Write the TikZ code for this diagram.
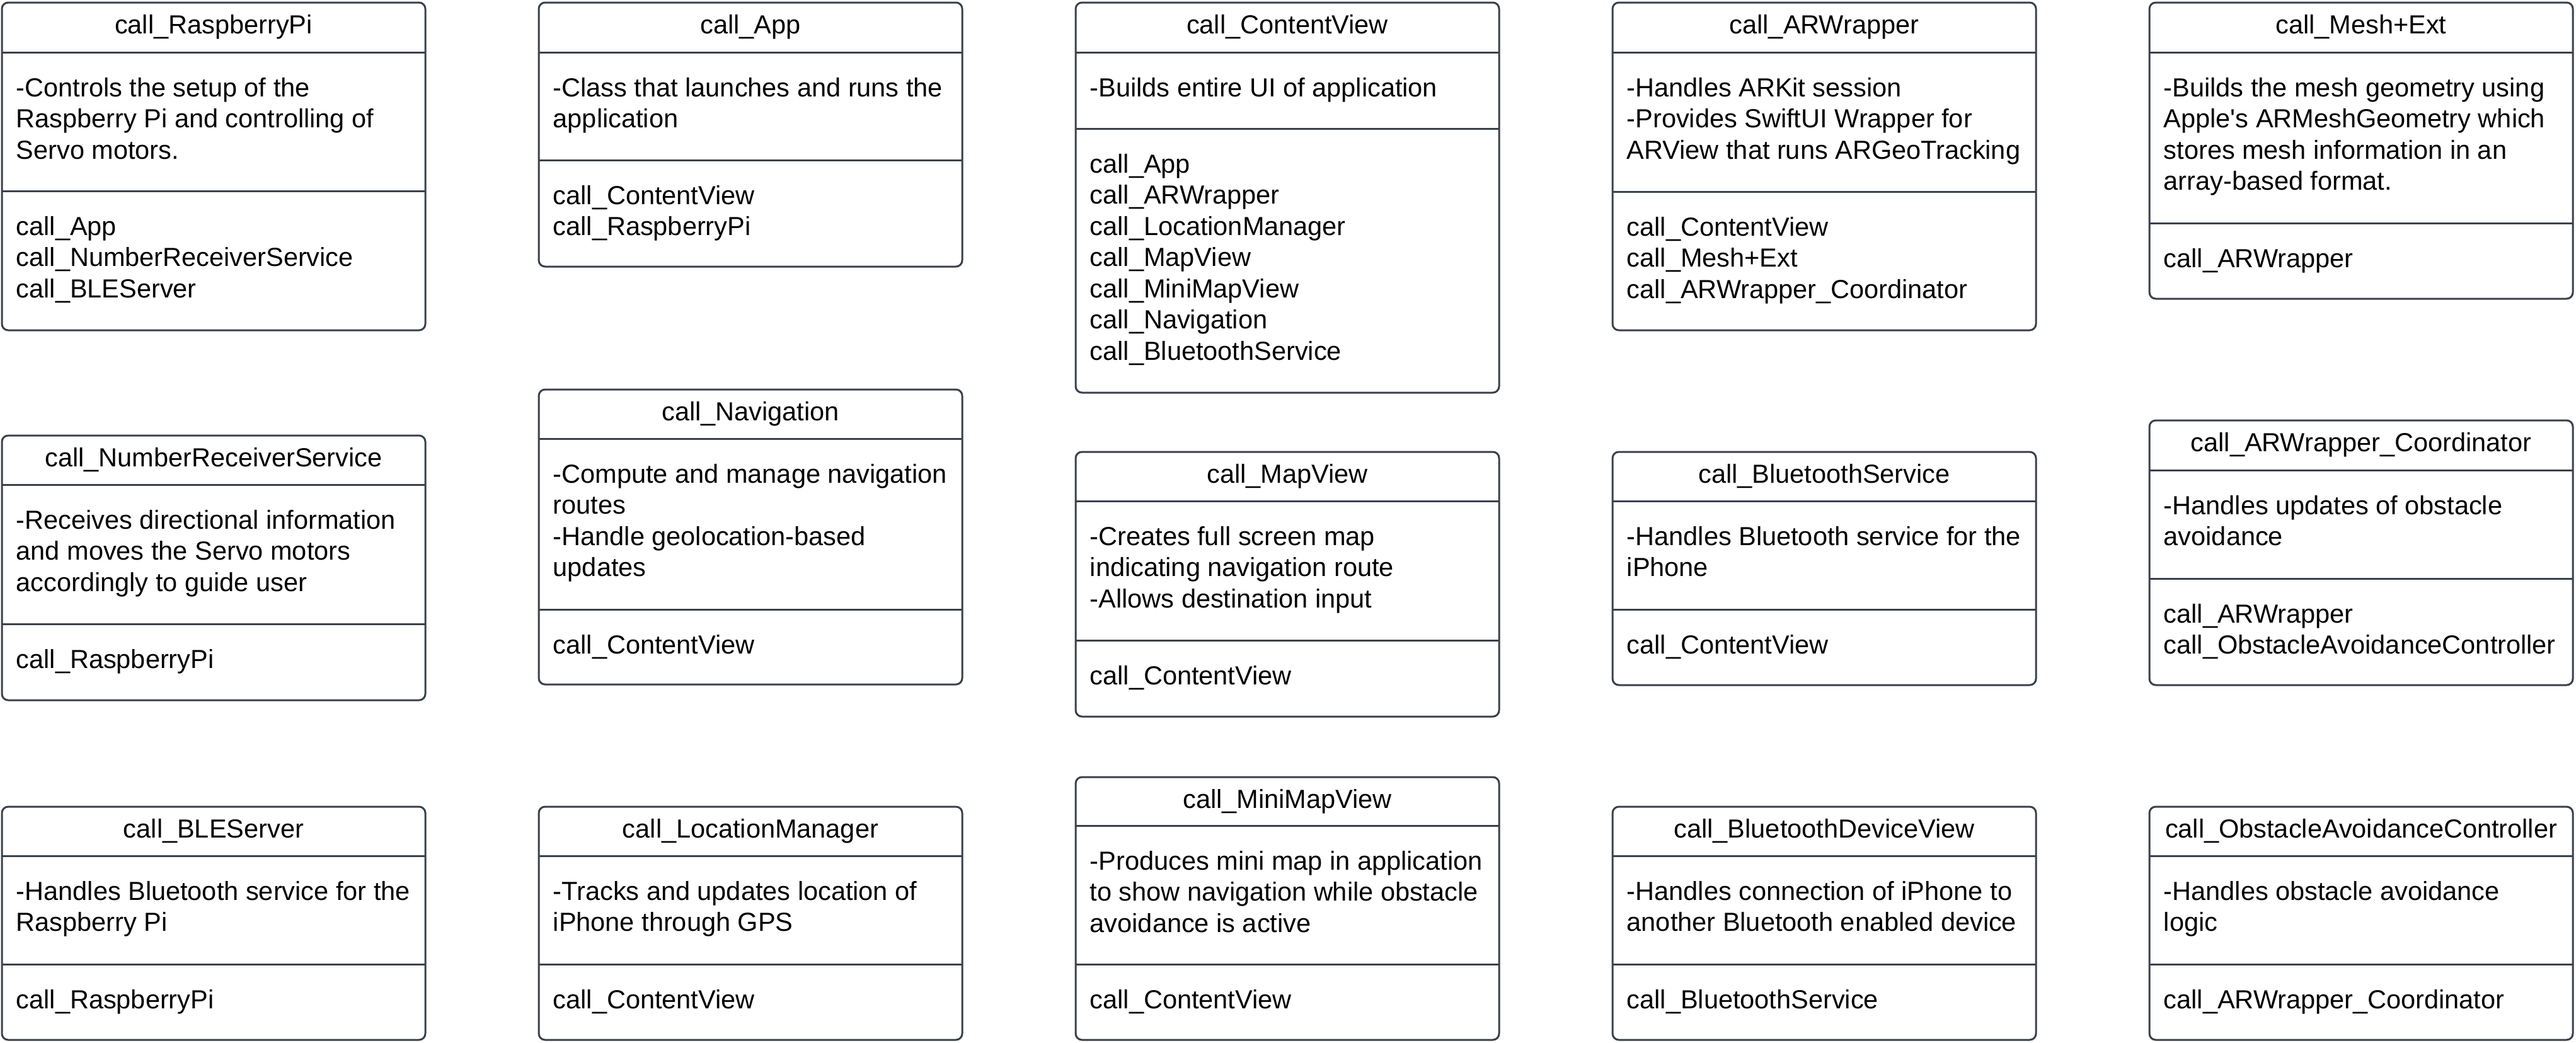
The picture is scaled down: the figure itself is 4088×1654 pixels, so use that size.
\documentclass[tikz,border=0pt]{standalone}
\usepackage{fontspec}
\newfontfamily\cardfont{Liberation Sans}
\definecolor{cardline}{HTML}{3A414A}
\tikzset{
  cardbox/.style={draw=cardline, line width=0.75pt, rounded corners=2.5pt, fill=white,
    anchor=north west, inner sep=0pt, outer sep=0pt, minimum width=168pt},
  cardtitle/.style={anchor=base, inner sep=0pt, font=\cardfont\fontsize{10.375pt}{12.375pt}\selectfont},
  cardtext/.style={anchor=base west, inner sep=0pt, font=\cardfont\fontsize{10.375pt}{12.375pt}\selectfont},
  carddiv/.style={draw=cardline, line width=0.75pt}
}
% #1 name, #2 left, #3 top, #4 header divider, #5 second divider, #6 bottom,
% #7 title, #8 description lines, #9 call lines
\newcommand\classcard[9]{%
  \node[cardbox, minimum height={(#6-#3)*0.25pt}] (#1) at (#2,#3) {};
  \node[cardtitle] (#1-title) at (#2+336,#3+49) {#7};
  \draw[carddiv] (#2,#4) -- (#2+672,#4);
  \draw[carddiv] (#2,#5) -- (#2+672,#5);
  \node[cardtext] (#1-body) at (#2+22,#4+70) {\begin{tabular}[t]{@{}l@{}}#8\end{tabular}};
  \node[cardtext] (#1-calls) at (#2+22,#5+70) {\begin{tabular}[t]{@{}l@{}}#9\end{tabular}};
}
\begin{document}
\begin{tikzpicture}[x=0.25pt, y=-0.25pt]
\fill[white] (0,0) rectangle (4088,1654);
\useasboundingbox (0,0) rectangle (4088,1654);

% Row 1
\classcard{rpi}{3}{4}{83}{303}{524}{call\_RaspberryPi}
  {-Controls the setup of the\\Raspberry Pi and controlling of\\Servo motors.}
  {call\_App\\call\_NumberReceiverService\\call\_BLEServer}
\classcard{app}{855}{4}{83}{254}{423}{call\_App}
  {-Class that launches and runs the\\application}
  {call\_ContentView\\call\_RaspberryPi}
\classcard{cv}{1707}{4}{83}{204}{623}{call\_ContentView}
  {-Builds entire UI of application}
  {call\_App\\call\_ARWrapper\\call\_LocationManager\\call\_MapView\\call\_MiniMapView\\call\_Navigation\\call\_BluetoothService}
\classcard{arw}{2559}{4}{83}{304}{524}{call\_ARWrapper}
  {-Handles ARKit session\\-Provides SwiftUI Wrapper for\\ARView that runs ARGeoTracking}
  {call\_ContentView\\call\_Mesh+Ext\\call\_ARWrapper\_Coordinator}
\classcard{mesh}{3411}{4}{83}{354}{474}{call\_Mesh+Ext}
  {-Builds the mesh geometry using\\Apple's ARMeshGeometry which\\stores mesh information in an\\array-based format.}
  {call\_ARWrapper}

% Row 2
\classcard{nrs}{3}{691}{769}{990}{1111}{call\_NumberReceiverService}
  {-Receives directional information\\and moves the Servo motors\\accordingly to guide user}
  {call\_RaspberryPi}
\classcard{nav}{855}{618}{696}{967}{1086}{call\_Navigation}
  {-Compute and manage navigation\\routes\\-Handle geolocation-based\\updates}
  {call\_ContentView}
\classcard{map}{1707}{717}{795}{1016}{1137}{call\_MapView}
  {-Creates full screen map\\indicating navigation route\\-Allows destination input}
  {call\_ContentView}
\classcard{bts}{2559}{717}{795}{967}{1087}{call\_BluetoothService}
  {-Handles Bluetooth service for the\\iPhone}
  {call\_ContentView}
\classcard{arwc}{3411}{667}{746}{918}{1087}{call\_ARWrapper\_Coordinator}
  {-Handles updates of obstacle\\avoidance}
  {call\_ARWrapper\\call\_ObstacleAvoidanceController}

% Row 3
\classcard{ble}{3}{1280}{1358}{1530}{1650}{call\_BLEServer}
  {-Handles Bluetooth service for the\\Raspberry Pi}
  {call\_RaspberryPi}
\classcard{loc}{855}{1280}{1358}{1530}{1650}{call\_LocationManager}
  {-Tracks and updates location of\\iPhone through GPS}
  {call\_ContentView}
\classcard{mini}{1707}{1233}{1310}{1530}{1650}{call\_MiniMapView}
  {-Produces mini map in application\\to show navigation while obstacle\\avoidance is active}
  {call\_ContentView}
\classcard{btd}{2559}{1280}{1358}{1530}{1650}{call\_BluetoothDeviceView}
  {-Handles connection of iPhone to\\another Bluetooth enabled device}
  {call\_BluetoothService}
\classcard{oac}{3411}{1280}{1358}{1530}{1650}{call\_ObstacleAvoidanceController}
  {-Handles obstacle avoidance\\logic}
  {call\_ARWrapper\_Coordinator}
\end{tikzpicture}
\end{document}
